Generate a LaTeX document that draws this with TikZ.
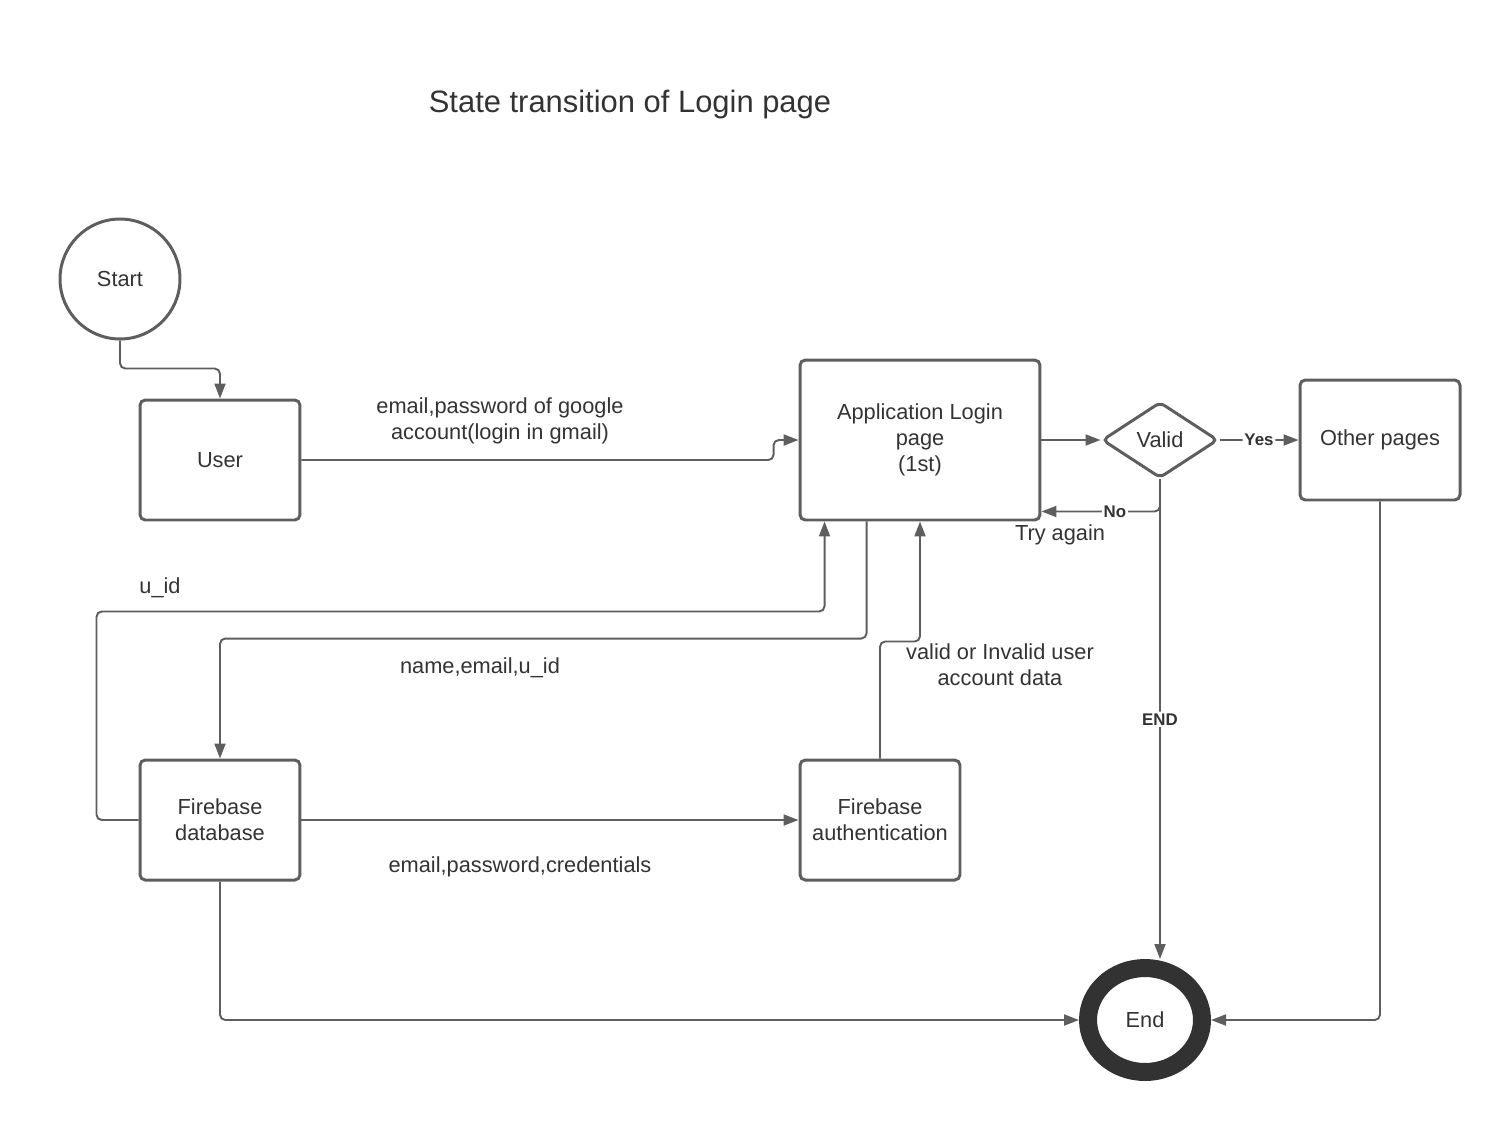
\documentclass[tikz,border=0pt]{standalone}
\usepackage{fontspec}
\setmainfont{Liberation Sans}
\usepackage{xcolor}
\usepackage{tikz}
\usetikzlibrary{calc,shapes,arrows.meta,positioning}
\definecolor{linegray}{RGB}{94,94,94}
\definecolor{textgray}{RGB}{51,51,51}
\definecolor{ringgray}{RGB}{50,50,50}

\begin{document}
\begin{tikzpicture}[x=0.02cm,y=-0.02cm]
          \useasboundingbox (0,0) rectangle (1500,1120);
          \tikzstyle{every node}=[text=textgray, align=center, font=\fontsize{12.4}{14.8}\selectfont]
          \tikzstyle{block}=[draw=linegray, line width=1.7pt, rounded corners=3pt, minimum width=3.2cm, minimum height=2.4cm, inner sep=2pt]
          \tikzstyle{flow}=[draw=linegray, line width=1.1pt, rounded corners=3pt, -{Triangle[length=0.3cm,width=0.22cm]}]
          \tikzstyle{lblbold}=[fill=white, inner sep=1pt, font=\fontsize{9.6}{11}\selectfont\bfseries]

          % Title
          \node[font=\fontsize{17.6}{20}\selectfont] (title) at (630,104) {State transition of Login page};

          % States
          \node[circle, draw=linegray, line width=1.7pt, minimum size=2.4cm, inner sep=0pt] (start) at (120,279) {Start};
          \node[block] (user) at (220,460) {User};
          \node[block, minimum width=4.8cm, minimum height=3.2cm] (app) at (920,440) {Application Login\\page\\(1st)};
          \node[diamond, draw=linegray, line width=1.7pt, rounded corners=3pt, minimum width=2.32cm, minimum height=1.52cm, inner sep=0pt] (valid) at (1160,440) {Valid};
          \node[block] (other) at (1380,440) {Other pages};
          \node[block] (fdb) at (220,820) {Firebase\\database};
          \node[block] (auth) at (880,820) {Firebase\\authentication};
          \node[ellipse, draw=ringgray, line width=0.36cm, minimum width=2.28cm, minimum height=2.08cm, inner sep=0pt] (end) at (1145,1020) {End};

          % Upper level
          \draw[flow] (start.south) |- ($(user.north)+(0,-30)$) -- (user.north);
          \draw[flow] (user.east) -| ($(app.west)+(-25,0)$) -- (app.west);
          \draw[flow] (app.east) -- (valid.west);
          \draw[flow] (valid.east) -- node[lblbold] {Yes} (other.west);
          \draw[flow] (valid.south) |- node[lblbold, pos=0.69] {No} ($(app.south east)+(0,-10)$);
          \draw[flow] (valid.south) -- node[lblbold] {END} (valid.south |- end.north);
          \draw[flow] (other.south) |- (end.east);

          % Lower level
          \draw[flow] (fdb.south) |- (end.west);
          \draw[flow] (fdb.east) -- (auth.west);
          \draw[flow] (fdb.west) -- ++(-42,0) |- ($(app.south west)+(26,90)$) -- ($(app.south west)+(26,0)$);
          \draw[flow] ($(app.south west)+(68,0)$) |- ($(fdb.north)+(0,-120)$) -- (fdb.north);
          \draw[flow] (auth.north) |- ($(app.south)+(0,120)$) -- (app.south);

          % Labels
          \node (lblgoogle) at (500,421) {email,password of google\\account(login in gmail)};
          \node (lbltry) at (1060,535) {Try again};
          \node (lbluid) at (160,588) {u\_id};
          \node (lblname) at (480,668) {name,email,u\_id};
          \node (lblvalid) at (1000,665) {valid or Invalid user\\account data};
          \node (lblcred) at (520,867) {email,password,credentials};
\end{tikzpicture}
\end{document}
